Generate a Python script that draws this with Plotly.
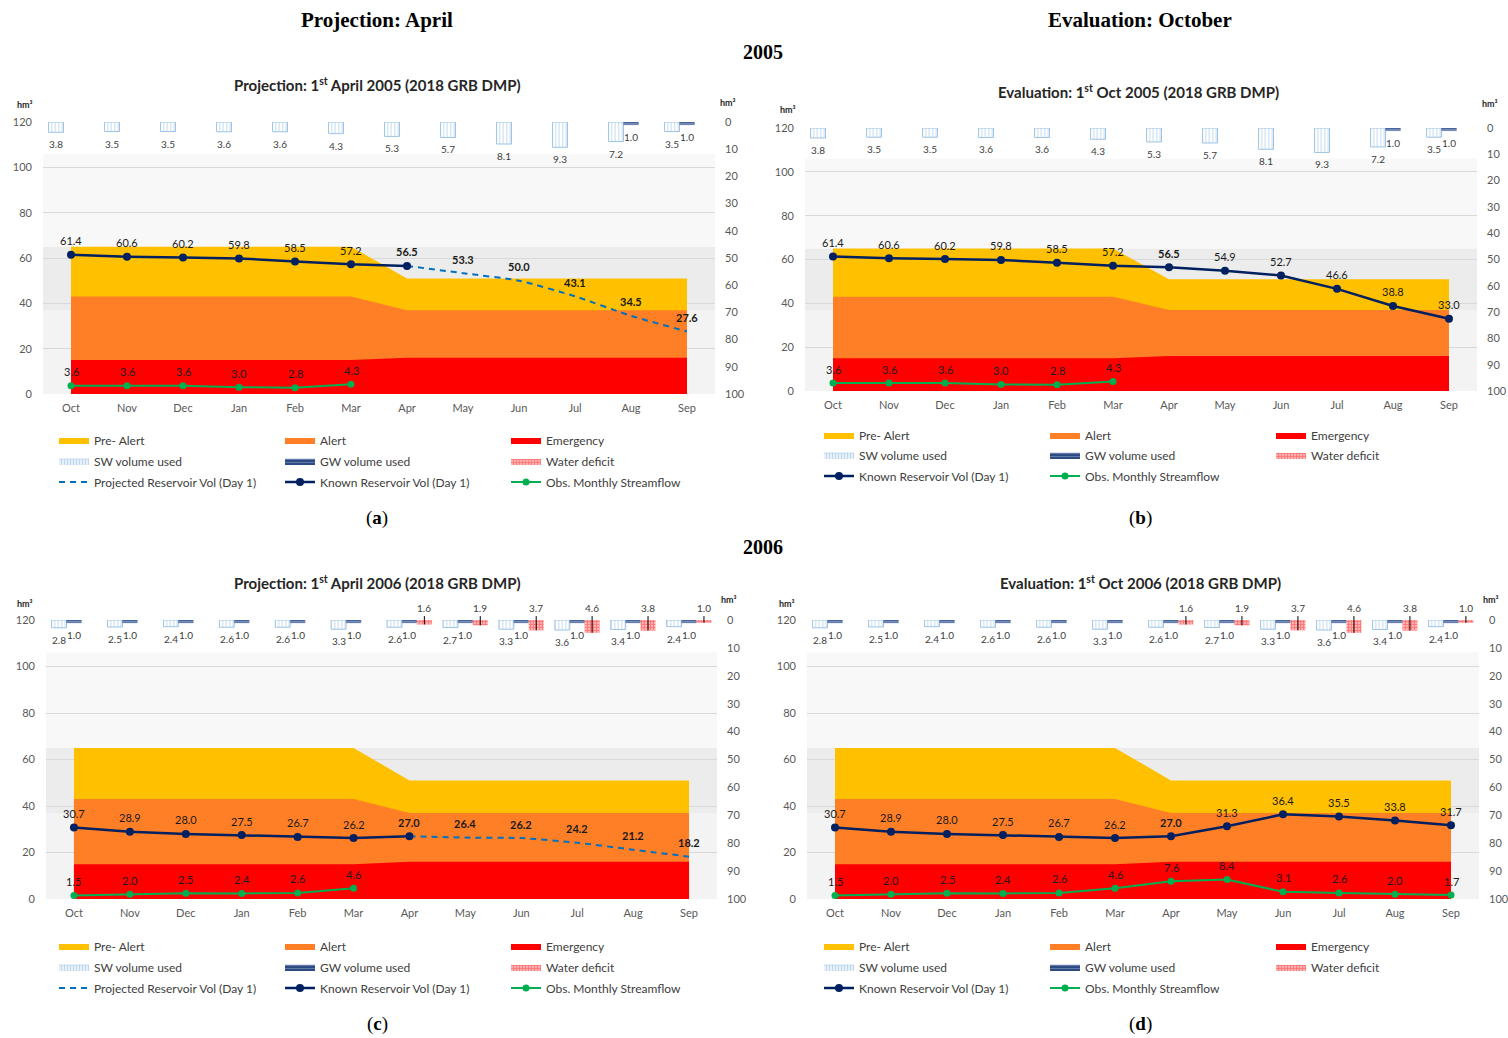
import plotly.graph_objects as go

W, H = 1508, 1038

MONTHS = ["Oct", "Nov", "Dec", "Jan", "Feb", "Mar", "Apr", "May", "Jun", "Jul", "Aug", "Sep"]

# Upper storage limit (hm³) of each drought state in the 2018 GRB DMP
EMERGENCY_LIMIT = [15, 15, 15, 15, 15, 15, 16, 16, 16, 16, 16, 16]
ALERT_LIMIT = [43, 43, 43, 43, 43, 43, 37, 37, 37, 37, 37, 37]
PRE_ALERT_LIMIT = [65, 65, 65, 65, 65, 65, 51, 51, 51, 51, 51, 51]

# Monthly volumes used (hm³), right-hand axis
SW_USED_2005 = [3.8, 3.5, 3.5, 3.6, 3.6, 4.3, 5.3, 5.7, 8.1, 9.3, 7.2, 3.5]
GW_USED_2005 = [None, None, None, None, None, None, None, None, None, None, 1.0, 1.0]
DEFICIT_2005 = [None] * 12
SW_USED_2006 = [2.8, 2.5, 2.4, 2.6, 2.6, 3.3, 2.6, 2.7, 3.3, 3.6, 3.4, 2.4]
GW_USED_2006 = [1.0, 1.0, 1.0, 1.0, 1.0, 1.0, 1.0, 1.0, 1.0, 1.0, 1.0, 1.0]
DEFICIT_2006 = [None, None, None, None, None, None, 1.6, 1.9, 3.7, 4.6, 3.8, 1.0]

# Reservoir volume on day 1 of each month (hm³)
KNOWN_APR_2005 = [61.4, 60.6, 60.2, 59.8, 58.5, 57.2, 56.5, None, None, None, None, None]
PROJ_APR_2005 = [None, None, None, None, None, None, 56.5, 53.3, 50.0, 43.1, 34.5, 27.6]
KNOWN_OCT_2005 = [61.4, 60.6, 60.2, 59.8, 58.5, 57.2, 56.5, 54.9, 52.7, 46.6, 38.8, 33.0]
KNOWN_APR_2006 = [30.7, 28.9, 28.0, 27.5, 26.7, 26.2, 27.0, None, None, None, None, None]
PROJ_APR_2006 = [None, None, None, None, None, None, 27.0, 26.4, 26.2, 24.2, 21.2, 18.2]
KNOWN_OCT_2006 = [30.7, 28.9, 28.0, 27.5, 26.7, 26.2, 27.0, 31.3, 36.4, 35.5, 33.8, 31.7]

# Observed monthly streamflow (hm³)
FLOW_2005 = [3.6, 3.6, 3.6, 3.0, 2.8, 4.3, None, None, None, None, None, None]
FLOW_APR_2006 = [1.5, 2.0, 2.5, 2.4, 2.6, 4.6, None, None, None, None, None, None]
FLOW_OCT_2006 = [1.5, 2.0, 2.5, 2.4, 2.6, 4.6, 7.6, 8.4, 3.1, 2.6, 2.0, 1.7]

PROJECTION_MONTH = "Apr"

PANELS = [
    dict(title="Projection: 1<sup>st</sup> April 2005 (2018 GRB DMP)", tag="a",
         known=KNOWN_APR_2005, proj=PROJ_APR_2005, flow=FLOW_2005,
         sw=SW_USED_2005, gw=GW_USED_2005, deficit=DEFICIT_2005),
    dict(title="Evaluation: 1<sup>st</sup> Oct 2005 (2018 GRB DMP)", tag="b",
         known=KNOWN_OCT_2005, proj=None, flow=FLOW_2005,
         sw=SW_USED_2005, gw=GW_USED_2005, deficit=DEFICIT_2005),
    dict(title="Projection: 1<sup>st</sup> April 2006 (2018 GRB DMP)", tag="c",
         known=KNOWN_APR_2006, proj=PROJ_APR_2006, flow=FLOW_APR_2006,
         sw=SW_USED_2006, gw=GW_USED_2006, deficit=DEFICIT_2006),
    dict(title="Evaluation: 1<sup>st</sup> Oct 2006 (2018 GRB DMP)", tag="d",
         known=KNOWN_OCT_2006, proj=None, flow=FLOW_OCT_2006,
         sw=SW_USED_2006, gw=GW_USED_2006, deficit=DEFICIT_2006),
]

# Page placement of each panel, in pixels
BOXES = [(43, 715, 122, 394), (805, 1477, 128, 391), (46, 717, 620, 899), (807, 1479, 620, 899)]
TITLE_POS = [(377, 85), (1138, 91), (377, 582), (1140, 582)]
TAG_POS = [(377, 518), (1140, 518), (377, 1024), (1140, 1024)]
HM_LEFT = [(25, 104), (788, 110), (25, 603), (787, 603)]
HM_RIGHT = [(728, 102), (1490, 103), (729, 599), (1491, 599)]
LEG_X = [94, 859, 94, 859]
LEG_ROWS = [(440, 461, 482), (435, 455, 476), (946, 967, 988), (946, 967, 988)]

SANS = "Lato, 'Open Sans', sans-serif"
SERIF = "'Liberation Serif', 'DejaVu Serif', serif"
TICK_FONT = dict(family=SANS, size=11, color="#595959")
LABEL_FONT = dict(family=SANS, size=11, color="#1A1A1A")
BAR_FONT = dict(family=SANS, size=10, color="#404040")
BARGAP = 0.2

# Bar styles: (bar fill, bar outline, bar pattern, legend fill, legend pattern)
SW_STYLE = dict(color="white", line="#9DC3E6",
                pattern=dict(shape="|", fgcolor="#9DC3E6", size=3.5, solidity=0.35),
                leg_color="#EEF5FC",
                leg_pattern=dict(shape="|", fgcolor="#8DB9E2", size=3, solidity=0.45))
GW_STYLE = dict(color="#3B5A94", line="#6F86B3",
                pattern=dict(shape="-", fgcolor="#A9BAD8", size=3, solidity=0.35),
                leg_color="#2E4A82",
                leg_pattern=dict(shape="-", fgcolor="#9FB2D6", size=3, solidity=0.3))
DEF_STYLE = dict(color="#FFB0B0", line="#FFB0B0",
                 pattern=dict(shape="+", fgcolor="#FF3A3A", size=3, solidity=0.5),
                 leg_color="#FFB0B0",
                 leg_pattern=dict(shape="+", fgcolor="#FF3A3A", size=3, solidity=0.5))


def px_x(x):
    return x / W


def px_y(y):
    return 1 - y / H


def fmt(v, bold=False):
    s = f"{v:.1f}"
    return f"<b>{s}</b>" if bold else s


def page_text(text, x, y, font):
    return dict(x=px_x(x), y=px_y(y), xref="paper", yref="paper", text=text,
                showarrow=False, xanchor="center", yanchor="middle", font=font)


fig = go.Figure()
annotations = []
shapes = []
layout = {}

for i, p in enumerate(PANELS):
    n = i + 1
    xa = "x" if n == 1 else f"x{n}"
    yl = "y" if n == 1 else f"y{2 * n - 1}"
    yr = f"y{2 * n}"
    legs = [("legend" if k == 1 else f"legend{k}") for k in (3 * i + 1, 3 * i + 2, 3 * i + 3)]
    grp = f"p{n}"
    x0, x1, y0, y1 = BOXES[i]
    slot = (x1 - x0) / 12 * (1 - BARGAP) / 3

    # Drought-state bands
    for name, vals, col in [("Pre- Alert", PRE_ALERT_LIMIT, "#FFC000"),
                            ("Alert", ALERT_LIMIT, "#FF7F27"),
                            ("Emergency", EMERGENCY_LIMIT, "#FF0000")]:
        fig.add_trace(go.Scatter(
            x=MONTHS, y=vals, xaxis=xa, yaxis=yl, mode="lines", fill="tozeroy",
            fillcolor=col, line=dict(width=0, color=col), name=name,
            legend=legs[0], legendgroup=grp + name, hoverinfo="skip"))

    # Volumes used, hanging from the top of the chart
    bar_series = [("SW volume used", p["sw"], SW_STYLE, 1),
                  ("GW volume used", p["gw"], GW_STYLE, 0.5),
                  ("Water deficit", p["deficit"], DEF_STYLE, 0)]
    for name, vals, st, lw in bar_series:
        fig.add_trace(go.Bar(
            x=MONTHS, y=vals, xaxis=xa, yaxis=yr, name=name, showlegend=False,
            marker=dict(color=st["color"], line=dict(color=st["line"], width=lw),
                        pattern=st["pattern"]),
            cliponaxis=False))
    # Wide patterned legend swatches for the bar series
    for name, vals, st, lw in bar_series:
        fig.add_trace(go.Scatter(
            x=[None], y=[None], xaxis=xa, yaxis=yr, name=name, legend=legs[1],
            legendgroup=grp + name, mode="lines", fill="toself", fillcolor=st["leg_color"],
            fillpattern=st["leg_pattern"], line=dict(color=st["line"], width=0.5 if lw else 0)))

    # Bar value labels below the bar ends (SW and GW)
    for vals, dx in ((p["sw"], -slot), (p["gw"], 0.0)):
        for m, v in zip(MONTHS, vals):
            if v is None:
                continue
            annotations.append(dict(x=m, y=v, xref=xa, yref=yr, text=fmt(v), showarrow=False,
                                    xanchor="center", yanchor="top", xshift=dx, yshift=-4,
                                    font=BAR_FONT))
    # Water deficit labels with leader lines
    for m, v in zip(MONTHS, p["deficit"]):
        if v is None:
            continue
        annotations.append(dict(
            x=m, y=v, xref=xa, yref=yr, ax=0, axref="pixel", ay=-1.4, ayref=yr,
            text=fmt(v), showarrow=True, arrowhead=0, arrowwidth=1, arrowcolor="#000000",
            standoff=0, startstandoff=0, xshift=slot, yanchor="bottom", font=BAR_FONT))

    bold_idx = MONTHS.index(PROJECTION_MONTH)
    if p["proj"] is not None:
        fig.add_trace(go.Scatter(
            x=MONTHS, y=p["proj"], xaxis=xa, yaxis=yl, name="Projected Reservoir Vol (Day 1)",
            legend=legs[2], legendgroup=grp + "proj", mode="lines",
            line=dict(color="#0070C0", width=2, dash="6px,5px", shape="spline", smoothing=0.6),
            cliponaxis=False))
        for k, (m, v) in enumerate(zip(MONTHS, p["proj"])):
            if v is None or k == bold_idx:
                continue
            annotations.append(dict(x=m, y=v, xref=xa, yref=yl, text=fmt(v, True),
                                    showarrow=False, xanchor="center", yanchor="middle",
                                    yshift=14, font=LABEL_FONT))

    fig.add_trace(go.Scatter(
        x=MONTHS, y=p["known"], xaxis=xa, yaxis=yl, name="Known Reservoir Vol (Day 1)",
        legend=legs[2], legendgroup=grp + "known", mode="lines+markers",
        line=dict(color="#002060", width=2.5), marker=dict(size=8, color="#002060"),
        cliponaxis=False))
    for k, (m, v) in enumerate(zip(MONTHS, p["known"])):
        if v is None:
            continue
        annotations.append(dict(x=m, y=v, xref=xa, yref=yl, text=fmt(v, k == bold_idx),
                                showarrow=False, xanchor="center", yanchor="middle",
                                yshift=14, font=LABEL_FONT))

    fig.add_trace(go.Scatter(
        x=MONTHS, y=p["flow"], xaxis=xa, yaxis=yl, name="Obs. Monthly Streamflow",
        legend=legs[2], legendgroup=grp + "flow", mode="lines+markers",
        line=dict(color="#00B050", width=2), marker=dict(size=7, color="#00B050"),
        cliponaxis=False))
    for m, v in zip(MONTHS, p["flow"]):
        if v is None:
            continue
        annotations.append(dict(x=m, y=v, xref=xa, yref=yl, text=fmt(v), showarrow=False,
                                xanchor="center", yanchor="middle", yshift=14, font=LABEL_FONT))

    # Axes
    dom_x = [px_x(x0), px_x(x1)]
    dom_y = [px_y(y1), px_y(y0)]
    xkey = "xaxis" if n == 1 else f"xaxis{n}"
    ylkey = "yaxis" if n == 1 else f"yaxis{2 * n - 1}"
    yrkey = f"yaxis{2 * n}"
    layout[xkey] = dict(domain=dom_x, anchor=yl, type="category", categoryarray=MONTHS,
                        range=[-0.5, 11.5], showgrid=False, zeroline=False, showline=False,
                        ticks="", tickfont=TICK_FONT, ticklabelstandoff=6, fixedrange=True,
                        automargin=False)
    layout[ylkey] = dict(domain=dom_y, anchor=xa, range=[0, 120], dtick=20, tick0=0,
                         showgrid=True, gridcolor="#D9D9D9", gridwidth=1, zeroline=False,
                         showline=False, ticks="", tickfont=TICK_FONT, ticklabelstandoff=10,
                         automargin=False)
    layout[yrkey] = dict(domain=dom_y, anchor=xa, overlaying=yl, side="right",
                         range=[100, 0], dtick=10, tick0=0, showgrid=False, zeroline=False,
                         showline=False, ticks="", tickfont=TICK_FONT, ticklabelstandoff=9,
                         automargin=False)

    # Pale background bands of the plot area
    for lo, hi, col in [(0, 37, "#F3F3F3"), (37, 65, "#ECECEC"), (65, 106, "#F8F8F8")]:
        shapes.append(dict(type="rect", xref=f"{xa} domain", yref=yl, x0=0, x1=1, y0=lo, y1=hi,
                           fillcolor=col, line=dict(width=0), layer="below"))

    tx, ty = TITLE_POS[i]
    annotations.append(page_text(f"<b>{p['title']}</b>", tx, ty,
                                 dict(family=SANS, size=15, color="#262626")))
    gx, gy = TAG_POS[i]
    annotations.append(page_text(f"(<b>{p['tag']}</b>)", gx, gy,
                                 dict(family=SERIF, size=19, color="#000000")))
    for hx, hy in (HM_LEFT[i], HM_RIGHT[i]):
        annotations.append(page_text("<b>hm³</b>", hx, hy,
                                     dict(family=SANS, size=9, color="#262626")))

    for r, key in enumerate(legs):
        layout[key] = dict(orientation="h", x=px_x(LEG_X[i] - 40), y=px_y(LEG_ROWS[i][r]),
                           xanchor="left", yanchor="middle", entrywidth=181,
                           entrywidthmode="pixels", bgcolor="rgba(0,0,0,0)", borderwidth=0,
                           font=dict(family=SANS, size=12, color="#404040"),
                           tracegroupgap=0, itemsizing="trace", itemclick=False,
                           itemdoubleclick=False)

for text, x, y, size in [("<b>Projection: April</b>", 377, 20, 21),
                         ("<b>Evaluation: October</b>", 1140, 20, 21),
                         ("<b>2005</b>", 763, 52, 20),
                         ("<b>2006</b>", 763, 547, 20)]:
    annotations.append(page_text(text, x, y, dict(family=SERIF, size=size, color="#000000")))

fig.update_layout(
    width=W, height=H, margin=dict(l=0, r=0, t=0, b=0, autoexpand=False),
    paper_bgcolor="white", plot_bgcolor="white",
    barmode="group", bargap=BARGAP, bargroupgap=0,
    showlegend=True, annotations=annotations, shapes=shapes,
    **layout)

fig.write_html("out.html", config={"displayModeBar": False})
